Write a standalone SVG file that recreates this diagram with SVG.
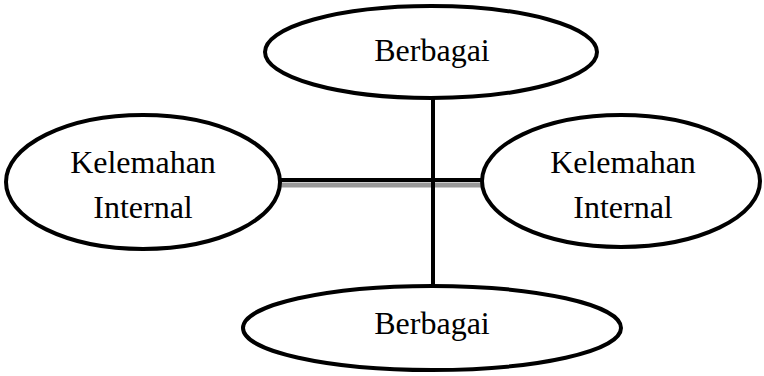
<svg xmlns="http://www.w3.org/2000/svg" width="764" height="376" viewBox="0 0 764 376">
  <style>
    .node ellipse { fill: #fff; stroke: #000; stroke-width: 4; }
    .node text { font-family: "Liberation Serif", "Times New Roman", serif; font-size: 32px; fill: #000; text-anchor: middle; }
    .link { stroke: #000; stroke-width: 4; fill: none; }
    .shade { stroke: #999; stroke-width: 5; fill: none; }
  </style>
  <rect width="764" height="376" fill="#fff"/>
  <g id="connectors">
    <line class="shade" x1="280" y1="185" x2="484" y2="185"/>
    <line class="link" x1="278" y1="180" x2="484" y2="180"/>
    <line class="link" x1="433" y1="96" x2="433" y2="287"/>
  </g>
  <g id="node-top" class="node">
    <ellipse cx="431" cy="52" rx="166" ry="46"/>
    <text x="432" y="61">Berbagai</text>
  </g>
  <g id="node-bottom" class="node">
    <ellipse cx="432" cy="328" rx="189" ry="42"/>
    <text x="432" y="334">Berbagai</text>
  </g>
  <g id="node-left" class="node">
    <ellipse cx="143" cy="182" rx="137" ry="67"/>
    <text x="143" y="173">Kelemahan</text>
    <text x="143" y="218">Internal</text>
  </g>
  <g id="node-right" class="node">
    <ellipse cx="621" cy="181" rx="139" ry="66"/>
    <text x="623" y="173">Kelemahan</text>
    <text x="623" y="218">Internal</text>
  </g>
</svg>
